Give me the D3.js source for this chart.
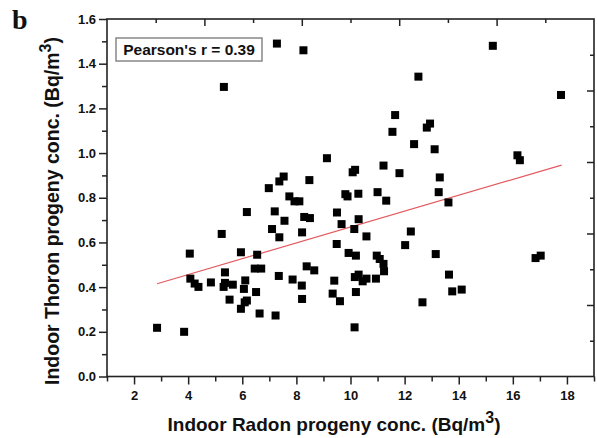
<!DOCTYPE html>
<html>
<head>
<meta charset="utf-8">
<script src="https://cdn.jsdelivr.net/npm/d3@7"></script>
<style>
  body { margin: 0; background: #fff; }
  text { font-family: "Liberation Sans", Arial, sans-serif; font-weight: bold; fill: #111; }
</style>
</head>
<body>
<div id="chart"></div>
<script>
//****data****
const radon = [7.28, 5.32, 6.98, 7.37, 7.53, 7.74, 7.93, 6.17, 7.20, 8.26,
  15.26, 12.51, 17.78, 11.65, 11.55, 12.82, 12.94, 12.35, 13.11, 9.13,
  16.17, 16.26, 11.22, 10.17, 10.08, 11.81, 8.48, 13.30, 13.26, 13.62,
  8.11, 9.81, 9.89, 10.29, 11.00, 11.32, 9.50, 8.29, 8.50, 10.30,
  2.85, 3.85, 4.06, 5.24, 4.08, 4.24, 4.38, 4.84, 5.36, 5.36,
  5.31, 5.65, 5.53, 5.95, 6.11, 6.06, 5.95, 6.09, 6.17, 6.55,
  6.46, 6.70, 6.51, 6.64, 7.23, 7.10, 7.37, 7.56, 7.35, 7.86,
  8.20, 8.21, 8.21, 8.38, 8.66, 9.67, 9.49, 10.14, 10.59, 12.23,
  12.02, 9.93, 10.20, 10.97, 11.08, 11.22, 11.24, 13.15, 16.84, 17.03,
  9.40, 9.34, 9.61, 10.16, 10.30, 10.45, 10.59, 10.94, 10.20, 10.15,
  12.66, 13.64, 13.76, 14.11];
const thoron = [1.490, 1.296, 0.843, 0.873, 0.895, 0.806, 0.784, 0.736, 0.739, 1.460,
  1.480, 1.342, 1.260, 1.170, 1.095, 1.114, 1.132, 1.040, 1.017, 0.977,
  0.990, 0.968, 0.944, 0.925, 0.914, 0.910, 0.879, 0.891, 0.825, 0.779,
  0.784, 0.816, 0.806, 0.818, 0.825, 0.787, 0.734, 0.714, 0.709, 0.704,
  0.218, 0.200, 0.550, 0.638, 0.438, 0.416, 0.401, 0.421, 0.466, 0.419,
  0.401, 0.411, 0.344, 0.556, 0.430, 0.392, 0.303, 0.332, 0.340, 0.545,
  0.483, 0.483, 0.378, 0.282, 0.273, 0.660, 0.623, 0.697, 0.450, 0.434,
  0.407, 0.347, 0.645, 0.493, 0.475, 0.682, 0.593, 0.660, 0.627, 0.649,
  0.588, 0.553, 0.541, 0.541, 0.526, 0.504, 0.471, 0.548, 0.530, 0.541,
  0.429, 0.371, 0.337, 0.445, 0.456, 0.426, 0.438, 0.438, 0.378, 0.220,
  0.332, 0.456, 0.381, 0.389];
const fitX = [2.85, 17.8];
const fitY = [0.415, 0.946];
const xTicks = [2, 4, 6, 8, 10, 12, 14, 16, 18];
const xMinor = [1, 3, 5, 7, 9, 11, 13, 15, 17, 19];
const yTicks = [0.0, 0.2, 0.4, 0.6, 0.8, 1.0, 1.2, 1.4, 1.6];
const yMinor = [0.1, 0.3, 0.5, 0.7, 0.9, 1.1, 1.3, 1.5];
const pearsonText = "Pearson's r = 0.39";

//****layout****
const w = 597, h = 438;
const plotLeft = 107, plotRight = 594, plotTop = 19, plotBottom = 376.5;
const axisColor = "#222";

const svg = d3.select("#chart").append("svg")
  .attr("width", w).attr("height", h);

const x = d3.scaleLinear().domain([1, 19]).range([plotLeft, plotRight]);
const y = d3.scaleLinear().domain([0, 1.6]).range([plotBottom, plotTop]);
// top and right axes carry their own evenly spaced ticks
const xTop = d3.scaleLinear().domain([0, 10]).range([plotLeft, plotRight]);
const yRight = d3.scaleLinear().domain([0, 10]).range([plotBottom, plotTop]);

function styleAxis(g) {
  g.select(".domain").remove();
  g.selectAll("line").attr("stroke", axisColor).attr("stroke-width", 1.5);
  g.selectAll("text").attr("font-size", 13).attr("fill", "#111");
}

// bottom
svg.append("g").attr("transform", `translate(0,${plotBottom})`)
  .call(d3.axisBottom(x).tickValues(xMinor).tickSize(5).tickFormat(""))
  .call(styleAxis);
svg.append("g").attr("transform", `translate(0,${plotBottom})`)
  .call(d3.axisBottom(x).tickValues(xTicks).tickSize(8).tickPadding(6).tickFormat(d3.format("d")))
  .call(styleAxis);

// left
svg.append("g").attr("transform", `translate(${plotLeft},0)`)
  .call(d3.axisLeft(y).tickValues(yMinor).tickSize(5).tickFormat(""))
  .call(styleAxis);
svg.append("g").attr("transform", `translate(${plotLeft},0)`)
  .call(d3.axisLeft(y).tickValues(yTicks).tickSize(8).tickPadding(3).tickFormat(d3.format(".1f")))
  .call(styleAxis);

// top (inward)
svg.append("g").attr("transform", `translate(0,${plotTop})`)
  .call(d3.axisBottom(xTop).tickValues([1, 3, 5, 7, 9]).tickSize(4).tickFormat(""))
  .call(styleAxis);
svg.append("g").attr("transform", `translate(0,${plotTop})`)
  .call(d3.axisBottom(xTop).tickValues([2, 4, 6, 8]).tickSize(7).tickFormat(""))
  .call(styleAxis);

// right (inward)
svg.append("g").attr("transform", `translate(${plotRight},0)`)
  .call(d3.axisLeft(yRight).tickValues([1, 3, 5, 7, 9]).tickSize(4).tickFormat(""))
  .call(styleAxis);
svg.append("g").attr("transform", `translate(${plotRight},0)`)
  .call(d3.axisLeft(yRight).tickValues([2, 4, 6, 8]).tickSize(7).tickFormat(""))
  .call(styleAxis);

// frame
svg.append("rect")
  .attr("x", plotLeft).attr("y", plotTop)
  .attr("width", plotRight - plotLeft).attr("height", plotBottom - plotTop)
  .attr("fill", "none").attr("stroke", axisColor).attr("stroke-width", 1.6);

// fit line
svg.append("line")
  .attr("x1", x(fitX[0])).attr("y1", y(fitY[0]))
  .attr("x2", x(fitX[1])).attr("y2", y(fitY[1]))
  .attr("stroke", "#e35a5f").attr("stroke-width", 1.2);

// points
const size = 8;
svg.append("g").selectAll("rect")
  .data(radon.map((r, i) => [r, thoron[i]]))
  .join("rect")
  .attr("x", d => x(d[0]) - size / 2)
  .attr("y", d => y(d[1]) - size / 2)
  .attr("width", size).attr("height", size)
  .attr("fill", "#000");

// pearson box
svg.append("rect")
  .attr("x", 116).attr("y", 38).attr("width", 146).attr("height", 23)
  .attr("fill", "#fff").attr("stroke", "#888").attr("stroke-width", 1.5);
svg.append("text")
  .attr("x", 189).attr("y", 55).attr("text-anchor", "middle")
  .attr("font-size", 15.5).text(pearsonText);

// axis titles
const xTitle = svg.append("text")
  .attr("x", 334).attr("y", 431).attr("text-anchor", "middle")
  .attr("font-size", 19);
xTitle.append("tspan").text("Indoor Radon progeny conc. (Bq/m");
xTitle.append("tspan").attr("dy", -8).attr("font-size", 16).text("3");
xTitle.append("tspan").attr("dy", 8).text(")");

const yTitle = svg.append("text")
  .attr("transform", "translate(59,211) rotate(-90)")
  .attr("text-anchor", "middle")
  .attr("font-size", 19.5);
yTitle.append("tspan").text("Indoor Thoron progeny conc. (Bq/m");
yTitle.append("tspan").attr("dy", -8).attr("font-size", 16).text("3");
yTitle.append("tspan").attr("dy", 8).text(")");

// panel letter
svg.append("text")
  .attr("x", 12).attr("y", 29)
  .style("font-family", "'Liberation Serif', 'Times New Roman', serif")
  .attr("font-size", 28).text("b");
</script>
</body>
</html>
